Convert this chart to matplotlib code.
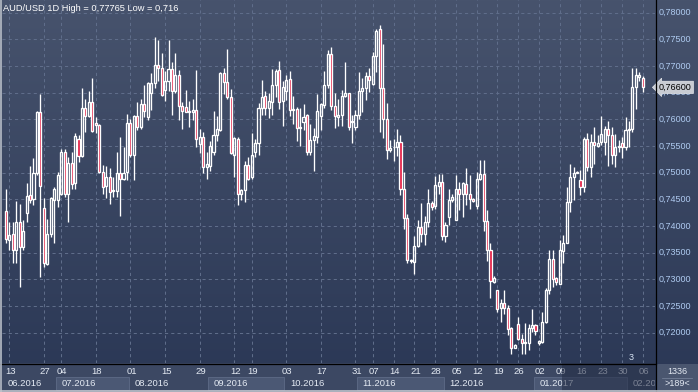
import numpy as np
import pandas as pd
import matplotlib
matplotlib.use("Agg")
import matplotlib.pyplot as plt
from matplotlib.patches import Rectangle
from matplotlib.lines import Line2D
import matplotlib.transforms as mtransforms

plt.rcParams['font.family'] = ['Liberation Sans', 'DejaVu Sans']

# ---------------- data (AUD/USD daily OHLC) ----------------
opens = [0.7429, 0.7374, 0.7386, 0.7356, 0.7407, 0.7361, 0.7424, 0.7458, 0.7450, 0.7499,
         0.7613, 0.7433, 0.7328, 0.7386, 0.7449, 0.7449, 0.7461, 0.7538, 0.7461, 0.7519,
         0.7480, 0.7563, 0.7532, 0.7622, 0.7607, 0.7632, 0.7594, 0.7589, 0.7502, 0.7475,
         0.7492, 0.7466, 0.7466, 0.7500, 0.7489, 0.7502, 0.7594, 0.7534, 0.7607, 0.7586,
         0.7628, 0.7604, 0.7649, 0.7669, 0.7702, 0.7697, 0.7655, 0.7672, 0.7694, 0.7653,
         0.7684, 0.7625, 0.7624, 0.7615, 0.7613, 0.7617, 0.7553, 0.7567, 0.7510, 0.7512,
         0.7539, 0.7570, 0.7580, 0.7686, 0.7670, 0.7642, 0.7533, 0.7564, 0.7461, 0.7468,
         0.7514, 0.7491, 0.7538, 0.7555, 0.7622, 0.7643, 0.7622, 0.7633, 0.7665, 0.7692,
         0.7635, 0.7653, 0.7675, 0.7618, 0.7620, 0.7583, 0.7595, 0.7608, 0.7538, 0.7561,
         0.7567, 0.7606, 0.7627, 0.7665, 0.7722, 0.7625, 0.7605, 0.7608, 0.7644, 0.7649,
         0.7597, 0.7586, 0.7609, 0.7653, 0.7659, 0.7682, 0.7667, 0.7719, 0.7769, 0.7659,
         0.7600, 0.7542, 0.7549, 0.7549, 0.7558, 0.7469, 0.7416, 0.7335, 0.7333, 0.7362,
         0.7399, 0.7385, 0.7408, 0.7444, 0.7438, 0.7475, 0.7482, 0.7381, 0.7417, 0.7449,
         0.7412, 0.7470, 0.7460, 0.7479, 0.7460, 0.7451, 0.7437, 0.7489, 0.7497, 0.7409,
         0.7356, 0.7295, 0.7280, 0.7247, 0.7255, 0.7247, 0.7208, 0.7172, 0.7216, 0.7189,
         0.7180, 0.7181, 0.7208, 0.7214, 0.7180, 0.7183, 0.7221, 0.7280, 0.7338, 0.7302,
         0.7292, 0.7354, 0.7369, 0.7445, 0.7491, 0.7502, 0.7487, 0.7474, 0.7563, 0.7511,
         0.7558, 0.7550, 0.7558, 0.7558, 0.7581, 0.7570, 0.7534, 0.7548, 0.7556, 0.7549,
         0.7580, 0.7582, 0.7661, 0.7680, 0.7677]
highs = [0.7470, 0.7408, 0.7408, 0.7447, 0.7442, 0.7411, 0.7480, 0.7512, 0.7527, 0.7616,
         0.7647, 0.7452, 0.7414, 0.7454, 0.7474, 0.7502, 0.7545, 0.7545, 0.7530, 0.7538,
         0.7574, 0.7570, 0.7658, 0.7638, 0.7653, 0.7677, 0.7605, 0.7591, 0.7514, 0.7513,
         0.7508, 0.7492, 0.7539, 0.7567, 0.7549, 0.7610, 0.7600, 0.7608, 0.7633, 0.7639,
         0.7664, 0.7670, 0.7686, 0.7755, 0.7749, 0.7724, 0.7690, 0.7749, 0.7708, 0.7724,
         0.7692, 0.7633, 0.7655, 0.7635, 0.7638, 0.7692, 0.7582, 0.7577, 0.7539, 0.7559,
         0.7615, 0.7606, 0.7689, 0.7697, 0.7732, 0.7656, 0.7567, 0.7567, 0.7470, 0.7522,
         0.7530, 0.7574, 0.7564, 0.7630, 0.7674, 0.7653, 0.7649, 0.7694, 0.7695, 0.7709,
         0.7672, 0.7683, 0.7690, 0.7643, 0.7624, 0.7622, 0.7628, 0.7610, 0.7592, 0.7583,
         0.7647, 0.7630, 0.7690, 0.7730, 0.7735, 0.7649, 0.7639, 0.7655, 0.7707, 0.7650,
         0.7608, 0.7617, 0.7688, 0.7677, 0.7688, 0.7697, 0.7727, 0.7770, 0.77765, 0.7741,
         0.7630, 0.7561, 0.7564, 0.7581, 0.7570, 0.7502, 0.7422, 0.7339, 0.7381, 0.7412,
         0.7444, 0.7419, 0.7469, 0.7447, 0.7494, 0.7497, 0.7497, 0.7408, 0.7469, 0.7460,
         0.7495, 0.7482, 0.7482, 0.7509, 0.7495, 0.7453, 0.7502, 0.7524, 0.7524, 0.7430,
         0.7369, 0.7306, 0.7281, 0.7264, 0.7280, 0.7252, 0.7210, 0.7179, 0.7229, 0.7197,
         0.7219, 0.7217, 0.7244, 0.7217, 0.7187, 0.7238, 0.7284, 0.7355, 0.7355, 0.7305,
         0.7374, 0.7384, 0.7474, 0.7517, 0.7510, 0.7504, 0.7505, 0.7566, 0.7574, 0.7572,
         0.7586, 0.7570, 0.7607, 0.7588, 0.7597, 0.7585, 0.7572, 0.7561, 0.7566, 0.7604,
         0.7597, 0.7696, 0.7696, 0.7689, 0.7681]
lows = [0.7369, 0.7355, 0.7330, 0.7330, 0.7285, 0.7355, 0.7408, 0.7444, 0.7439, 0.7495,
        0.7305, 0.7324, 0.7327, 0.7380, 0.7369, 0.7435, 0.7458, 0.7455, 0.7407, 0.7470,
        0.7470, 0.7520, 0.7530, 0.7577, 0.7605, 0.7577, 0.7574, 0.7499, 0.7461, 0.7452,
        0.7442, 0.7455, 0.7454, 0.7419, 0.7486, 0.7487, 0.7530, 0.7486, 0.7580, 0.7581,
        0.7605, 0.7598, 0.7617, 0.7659, 0.7672, 0.7643, 0.7635, 0.7653, 0.7608, 0.7649,
        0.7598, 0.7582, 0.7614, 0.7586, 0.7598, 0.7549, 0.7536, 0.7500, 0.7489, 0.7503,
        0.7533, 0.7559, 0.7578, 0.7647, 0.7639, 0.7535, 0.7492, 0.7440, 0.7449, 0.7445,
        0.7486, 0.7489, 0.7530, 0.7533, 0.7608, 0.7608, 0.7602, 0.7609, 0.7642, 0.7620,
        0.7587, 0.7636, 0.7606, 0.7592, 0.7560, 0.7550, 0.7580, 0.7533, 0.7533, 0.7503,
        0.7555, 0.7580, 0.7622, 0.7658, 0.7618, 0.7584, 0.7587, 0.7587, 0.7642, 0.7580,
        0.7556, 0.7580, 0.7600, 0.7613, 0.7636, 0.7651, 0.7664, 0.7689, 0.7577, 0.7565,
        0.7525, 0.7539, 0.7522, 0.7532, 0.7459, 0.7395, 0.7330, 0.7331, 0.7311, 0.7361,
        0.7370, 0.7364, 0.7399, 0.7431, 0.7432, 0.7460, 0.7374, 0.7370, 0.7402, 0.7445,
        0.7411, 0.7430, 0.7417, 0.7439, 0.7432, 0.7445, 0.7432, 0.7487, 0.7391, 0.7335,
        0.7266, 0.7294, 0.7238, 0.7220, 0.7236, 0.7196, 0.7160, 0.7171, 0.7186, 0.7161,
        0.7161, 0.7167, 0.7202, 0.7196, 0.7177, 0.7180, 0.7218, 0.7273, 0.7286, 0.7289,
        0.7291, 0.7330, 0.7369, 0.7427, 0.7449, 0.7499, 0.7458, 0.7464, 0.7503, 0.7492,
        0.7517, 0.7549, 0.7552, 0.7533, 0.7513, 0.7516, 0.7510, 0.7539, 0.7527, 0.7542,
        0.7549, 0.7577, 0.7619, 0.7672, 0.7651]
closes = [0.7375, 0.7384, 0.7356, 0.7407, 0.7361, 0.7390, 0.7456, 0.7449, 0.7500, 0.7614,
          0.7475, 0.7330, 0.7386, 0.7452, 0.7470, 0.7495, 0.7538, 0.7461, 0.7519, 0.7479,
          0.7569, 0.7532, 0.7622, 0.7607, 0.7632, 0.7578, 0.7589, 0.7502, 0.7474, 0.7492,
          0.7464, 0.7467, 0.7500, 0.7489, 0.7500, 0.7594, 0.7534, 0.7607, 0.7585, 0.7628,
          0.7616, 0.7669, 0.7669, 0.7702, 0.7697, 0.7645, 0.7672, 0.7694, 0.7653, 0.7684,
          0.7625, 0.7616, 0.7614, 0.7613, 0.7617, 0.7564, 0.7567, 0.7510, 0.7517, 0.7550,
          0.7570, 0.7582, 0.7686, 0.7670, 0.7641, 0.7537, 0.7565, 0.7461, 0.7468, 0.7514,
          0.7489, 0.7534, 0.7555, 0.7622, 0.7641, 0.7622, 0.7634, 0.7665, 0.7690, 0.7633,
          0.7661, 0.7674, 0.7618, 0.7620, 0.7583, 0.7585, 0.7605, 0.7538, 0.7561, 0.7569,
          0.7615, 0.7628, 0.7665, 0.7722, 0.7625, 0.7607, 0.7609, 0.7644, 0.7649, 0.7586,
          0.7595, 0.7609, 0.7653, 0.7659, 0.7682, 0.7674, 0.7719, 0.7766, 0.7659, 0.7600,
          0.7542, 0.7547, 0.7548, 0.7558, 0.7469, 0.7416, 0.7336, 0.7337, 0.7362, 0.7399,
          0.7385, 0.7407, 0.7444, 0.7435, 0.7477, 0.7482, 0.7381, 0.7402, 0.7449, 0.7455,
          0.7470, 0.7460, 0.7480, 0.7460, 0.7450, 0.7447, 0.7489, 0.7497, 0.7409, 0.7355,
          0.7297, 0.7303, 0.7245, 0.7255, 0.7247, 0.7207, 0.7172, 0.7177, 0.7189, 0.7180,
          0.7183, 0.7208, 0.7214, 0.7204, 0.7184, 0.7221, 0.7280, 0.7338, 0.7301, 0.7295,
          0.7355, 0.7369, 0.7445, 0.7491, 0.7499, 0.7499, 0.7474, 0.7564, 0.7511, 0.7558,
          0.7552, 0.7555, 0.7572, 0.7581, 0.7570, 0.7534, 0.7549, 0.7550, 0.7549, 0.7580,
          0.7582, 0.7661, 0.7683, 0.7683, 0.7660]

# bar dates: weekday sessions, then Sunday-to-Friday sessions from mid November
dates = list(pd.bdate_range('2016-06-10', '2016-11-11')) + \
        [d for d in pd.date_range('2016-11-13', '2017-02-06') if d.weekday() != 5]

day_ticks = ['2016-06-13', '2016-06-27', '2016-07-04', '2016-07-18', '2016-08-01',
             '2016-08-15', '2016-08-29', '2016-09-12', '2016-09-19', '2016-10-03',
             '2016-10-17', '2016-10-31', '2016-11-07', '2016-11-14', '2016-11-21',
             '2016-11-28', '2016-12-05', '2016-12-12', '2016-12-19', '2016-12-26',
             '2017-01-02', '2017-01-09', '2017-01-16', '2017-01-23', '2017-01-30',
             '2017-02-06']
month_labels = ['06.2016', '07.2016', '08.2016', '09.2016', '10.2016', '11.2016',
                '12.2016', '01.2017', '02.20']
price_ticks = [0.720, 0.725, 0.730, 0.735, 0.740, 0.745, 0.750, 0.755, 0.760,
               0.765, 0.770, 0.775, 0.780]
title = 'AUD/USD 1D High = 0,77765 Low = 0,716'
last_price = 0.76600

# ---------------- figure ----------------
W, H = 698, 392
fig = plt.figure(figsize=(W / 100, H / 100), dpi=100)

# background gradient
bg = fig.add_axes([0, 0, 1, 1], zorder=0)
top = np.array([0x47, 0x53, 0x6d]) / 255
bot = np.array([0x2a, 0x37, 0x55]) / 255
t = np.linspace(0, 1, 256)[:, None, None]
grad = top * (1 - t) + bot * t
bg.imshow(grad, aspect='auto', extent=[0, 1, 0, 1], transform=bg.transAxes)
bg.set_xlim(0, 1); bg.set_ylim(0, 1)
bg.axis('off')

ax = fig.add_axes([2 / W, 29 / H, 653 / W, 363 / H], zorder=2)
ax.set_facecolor('none')
n = len(closes)
x = np.arange(n)
ax.set_xlim(-1.098, 187.52)
ax.set_ylim(0.71432, 0.78238)
for s in ax.spines.values():
    s.set_visible(False)
ax.set_xticks([]); ax.set_yticks([])

date_index = {d.strftime('%Y-%m-%d'): i for i, d in enumerate(dates)}
tick_idx = [date_index[d] for d in day_ticks]

grid_kw = dict(color='#5f6d8a', lw=0.75, ls=(0, (3, 3)), zorder=1)
for p in price_ticks:
    ax.axhline(p, **grid_kw)
for i in tick_idx:
    ax.axvline(i, **grid_kw)

o = np.array(opens); h = np.array(highs); l = np.array(lows); c = np.array(closes)
up = c >= o
blo = np.minimum(o, c); bhi = np.maximum(o, c)
ax.vlines(x, bhi, h, color='white', lw=0.95, zorder=3)
ax.vlines(x, l, blo, color='white', lw=0.95, zorder=3)
bh = np.maximum(bhi - blo, 0.00005)
ax.bar(x[up], bh[up], bottom=blo[up], width=0.6, facecolor='none',
       edgecolor='white', linewidth=0.95, zorder=4)
ax.bar(x[~up], bh[~up], bottom=blo[~up], width=0.6, facecolor='#e3173e',
       edgecolor='white', linewidth=0.95, zorder=4)

# price labels on the right
blend = mtransforms.blended_transform_factory(ax.transAxes, ax.transData)
for p in price_ticks:
    ax.text(1 + 3.5 / 653, p, f'{p:.5f}'.replace('.', ','), transform=blend,
            ha='left', va='center', fontsize=6.5, color='#aecaf0', clip_on=False)
ax.text(1 + 4 / 653, last_price, f'{last_price:.5f}'.replace('.', ','), transform=blend,
        ha='left', va='center', fontsize=6.5, color='black', clip_on=False, zorder=10,
        bbox=dict(boxstyle='larrow,pad=0.18', fc='#c9ccd3', ec='#e6e8ec', lw=0.5))

fig.text(3 / W, 1 - 8.5 / H, title, ha='left', va='center', fontsize=6.7, color='white')
ax.text(180.6, 0.7153, '3', ha='center', va='center', fontsize=6.5, color='#d8e4f4')

# ---------------- bottom date strip ----------------
sx = fig.add_axes([2 / W, 0, 653 / W, 29 / H], zorder=3)
sx.set_xlim(ax.get_xlim()); sx.set_ylim(0, 29)
sx.set_facecolor('#3c4863')
for s in sx.spines.values():
    s.set_visible(False)
sx.set_xticks([]); sx.set_yticks([])

month_start = []
seen = set()
for i, d in enumerate(dates):
    key = d.strftime('%m.%Y')
    if key not in seen:
        seen.add(key); month_start.append(i)
bounds = month_start + [n + 5]
for k, lab in enumerate(month_labels):
    x0 = bounds[k] - 0.5 if k > 0 else -1.098
    x1 = bounds[k + 1] - 0.5
    if k % 2 == 1:
        sx.add_patch(Rectangle((x0, 2), x1 - x0, 13, facecolor='#4b5874',
                               edgecolor='#5e6b87', lw=0.6))
    sx.text(x0 + 1.6, 8.5, lab, ha='left', va='center', fontsize=6.8, color='#e4eaf3',
            clip_on=True)
for i, d in zip(tick_idx, day_ticks):
    sx.text(i + 0.3, 20, d[-2:], ha='center', va='center', fontsize=6.8, color='#e4eaf3')
sx.add_patch(Rectangle((160.7, 0), 30, 29, facecolor='#222b43', alpha=0.55,
                       edgecolor='none', zorder=5))

# right-bottom box
fig.patches.append(Rectangle((657 / W, 2 / H), 41 / W, 26 / H, transform=fig.transFigure,
                             facecolor='#4a566f', edgecolor='none', zorder=3))
fig.text(677 / W, 1 - 372 / H, '1336', ha='center', va='center', fontsize=6.5,
         color='#e4eaf3', zorder=4)
fig.text(677 / W, 1 - 384 / H, '>189<', ha='center', va='center', fontsize=6.5,
         color='#e4eaf3', zorder=4)
fig.add_artist(Line2D([662 / W, 692 / W], [1 - 377.5 / H] * 2, color='#7a869e', lw=0.5,
                      zorder=4))

# frame lines
fig.add_artist(Line2D([0, 655.5 / W], [1 - 363.5 / H] * 2, color='black', lw=0.9, zorder=6))
fig.add_artist(Line2D([655.5 / W] * 2, [0, 1], color='black', lw=0.9, zorder=6))
fig.add_artist(Line2D([0.5 / W] * 2, [0, 1], color='#b6bcc6', lw=1.2, zorder=6))
fig.add_artist(Line2D([0, 1], [0.8 / H] * 2, color='#c2c6ce', lw=1.2, zorder=6))

fig.savefig('out.png', dpi=100)
